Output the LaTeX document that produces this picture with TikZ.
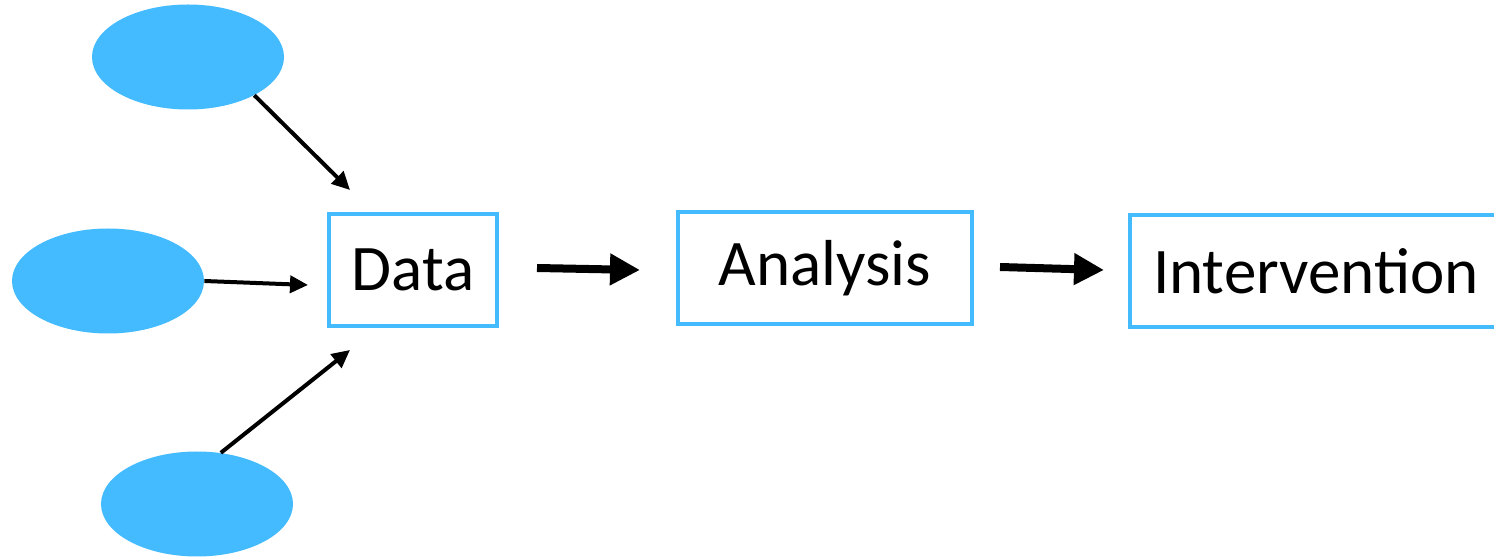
\documentclass[tikz,border=0pt]{standalone}
\usepackage{fontspec}
\setmainfont{Carlito}
\usepackage{xcolor}
\usetikzlibrary{arrows.meta, positioning, calc, shapes.geometric}
\definecolor{skyblue}{RGB}{68,187,255}

\begin{document}
\begin{tikzpicture}[x=0.2mm, y=-0.2mm,
    source/.style={ellipse, fill=skyblue, draw=none, minimum width=38.4mm, minimum height=21mm, inner sep=0pt},
    stage/.style={rectangle, draw=skyblue, line width=0.8mm, minimum height=22.4mm, inner sep=0pt,
        font=\fontsize{37}{44}\selectfont},
    feed/.style={-{Triangle[length=3.6mm, width=3.4mm]}, line width=0.8mm},
    flow/.style={-{Triangle[length=6mm, width=6mm]}, line width=1.6mm}]
    \useasboundingbox (0,0) rectangle (1494,557);
    % sources
    \node[source] (s1) at (188,57) {};
    \node[source] (s2) at (108,281) {};
    \node[source] (s3) at (197,504) {};
    % stages
    \node[stage, minimum width=33.6mm] (data) at (413,270) {Data};
    \node[stage, minimum width=58.8mm] (analysis) at (825,268) {Analysis};
    \node[stage, minimum width=74.4mm] (intervention) at (1316,271) {Intervention};
    % arrow ends
    \coordinate (d1) at (350,190);
    \coordinate (d2) at (308,285);
    \coordinate (d3) at (350,350);
    \coordinate (a1) at (537,268);
    \coordinate (a2) at (640,270);
    \coordinate (b1) at (1000,267);
    \coordinate (b2) at (1104,270);
    \draw[feed] (s1.-30) -- (d1);
    \draw[feed] (s2.east) -- (d2);
    \draw[feed] (s3.65) -- (d3);
    \draw[flow] (a1) -- (a2);
    \draw[flow] (b1) -- (b2);
\end{tikzpicture}
\end{document}
